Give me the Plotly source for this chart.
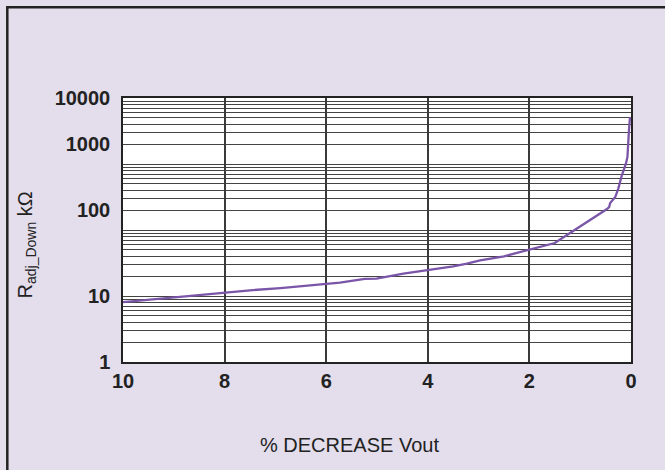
import plotly.graph_objects as go

# Data (x: % decrease of Vout, y: R_adj_Down in kOhm)
pct_decrease = [10, 9, 8, 7.5, 6.9, 6.5, 6.0, 5.73, 5.24, 5.01, 4.48, 4.02, 3.5, 3.23,
                2.97, 2.5, 1.99, 1.5, 1.17, 0.81, 0.48, 0.43, 0.41, 0.31, 0.25, 0.18,
                0.10, 0.07, 0.06, 0.04, 0.02]
r_adj_down = [8.1, 9.6, 11.1, 12.2, 13.2, 14.0, 15.4, 16.0, 18.2, 18.3, 21.8, 24.5, 28.2, 31.0,
              34.8, 40.0, 50.0, 63.5, 93, 140, 206, 223, 256, 316, 424, 675,
              1010, 1280, 2040, 3240, 5150]

x_ticks = [10, 8, 6, 4, 2, 0]
y_tick_text = ["1", "10", "100", "1000", "10000"]
y_tick_vals = [1, 10, 200, 2000, 10000]   # where the labels sit in the reference
y_grid_vals = [m * 10 ** k for k in range(4) for m in range(1, 10)] + [10000]

W, H = 665, 470
L, R, T, B = 123, 34, 98, 108
PW, PH = W - L - R, H - T - B

def px(x):
    return (x - L) / PW

def py(y):
    return (H - B - y) / PH

fig = go.Figure()
fig.add_trace(go.Scatter(
    x=pct_decrease, y=r_adj_down, mode="lines",
    line=dict(color="#7a55a8", width=2.3),
    showlegend=False, hoverinfo="x+y",
))

fig.update_layout(
    width=W, height=H,
    margin=dict(l=L, r=R, t=T, b=B),
    paper_bgcolor="#e3ddec",
    plot_bgcolor="#ffffff",
    font=dict(family="Liberation Sans, Arial, sans-serif", color="#222222"),
    xaxis=dict(
        range=[10, 0], tickmode="array", tickvals=x_ticks,
        ticktext=[str(v) for v in x_ticks],
        showgrid=True, gridcolor="#3a3a3a", gridwidth=1.5,
        zeroline=False, showline=True, linecolor="#222222", linewidth=1.5, mirror=True,
        ticks="", ticklabelstandoff=0,
        tickfont=dict(size=20, weight="bold", color="#222222"),
    ),
    yaxis=dict(
        type="log", range=[0, 4], tickmode="array", tickvals=y_tick_vals,
        ticktext=y_tick_text,
        showgrid=False,
        minor=dict(tickmode="array", tickvals=y_grid_vals, showgrid=True,
                   gridcolor="#444444", gridwidth=1, ticks=""),
        zeroline=False, showline=True, linecolor="#222222", linewidth=1.5, mirror=True,
        ticks="", ticklabelstandoff=7,
        tickfont=dict(size=20, weight="bold", color="#222222"),
    ),
    annotations=[
        dict(text="% DECREASE Vout", xref="paper", yref="paper",
             x=px(349), y=py(445), xanchor="center", yanchor="middle",
             showarrow=False, font=dict(size=20, color="#222222")),
        dict(text="R<sub>adj_Down</sub> kΩ", xref="paper", yref="paper",
             x=px(25.5), y=py(245), xanchor="center", yanchor="middle",
             textangle=-90, showarrow=False, font=dict(size=20, color="#222222")),
    ],
    shapes=[
        dict(type="rect", xref="paper", yref="paper",
             x0=px(7.3), y1=py(7.3), x1=px(W + 50), y0=py(H + 50),
             line=dict(color="#222222", width=2.5), fillcolor="rgba(0,0,0,0)",
             layer="above"),
    ],
)

fig.write_html("out.html")
